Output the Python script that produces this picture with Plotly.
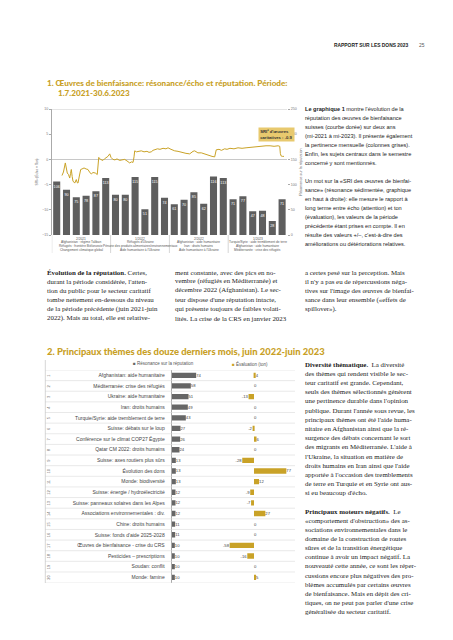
import plotly.graph_objects as go

W, H = 453, 640

# ---------------- DATA: chart 1 ----------------
MONTH_IDX = list(range(24))
RESONANCE_MONTHLY = [106, 90, 75, 78, 87, 113,
                     80, 80, 115, 51, 115, 74,
                     61, 70, 85, 62, 116, 113,
                     71, 77, 47, 48, 28, 71]
SRI_X = [0.54, 0.69, 0.88, 0.98, 1.08, 1.20, 1.33, 1.41, 1.49, 1.58,
         1.66, 1.84, 1.92, 2.00, 2.09, 2.17, 2.31, 2.45, 2.58, 2.79,
         3.00, 3.19, 3.35, 3.53, 3.70, 3.94, 4.14, 4.21, 4.29, 4.47,
         4.72, 4.87, 5.06, 5.23, 5.41, 5.54, 5.74, 5.94, 6.15, 6.43,
         6.66, 6.94, 7.17, 7.45, 7.63, 7.79, 7.89, 7.96, 8.14, 8.40,
         8.63, 8.91, 9.21, 9.42, 9.65, 9.83, 10.03, 10.28, 10.54, 10.85,
         11.15, 11.36, 11.66, 12.04, 12.38, 12.71, 12.99, 13.19, 13.57, 13.76,
         13.91, 14.08, 14.26, 14.41, 14.76, 15.03, 15.34, 15.61, 15.85, 16.12,
         16.20, 16.28, 16.56, 16.81, 17.14, 17.38, 17.68, 18.09, 18.50, 18.91,
         19.32, 19.73, 20.14, 20.54, 20.95, 21.36, 21.77, 22.18, 22.59, 22.76,
         22.82, 22.89, 23.04, 23.19]
SRI_Y = [-3.2, -2.5, -0.7, -1.6, -2.7, -3.0, -3.7, -2.8, -2.0, -3.4,
         -4.3, -4.7, -4.3, -4.0, -4.6, -4.7, -3.3, -2.0, -1.9, -1.7,
         -1.9, -2.0, -2.5, -2.9, -2.6, -2.7, -3.0, -1.5, 0.4, 0.0,
         -0.2, 0.1, 0.3, 0.6, 1.1, 0.4, 0.0, -0.1, 0.1, -0.2,
         -0.1, 0.0, -0.3, -0.7, -0.5, -0.6, 0.5, 1.7, 1.5, 1.6,
         1.7, 1.5, 1.6, 1.4, 1.5, 1.8, 1.9, 2.1, 2.0, 2.2,
         2.1, 2.3, 2.0, 1.7, 1.6, 1.4, 1.3, 1.2, 1.1, 1.4,
         1.6, 1.7, 1.5, 1.3, 1.3, 1.1, 1.0, 0.8, 0.6, 0.5,
         1.2, 1.9, 2.0, 1.8, 2.1, 2.0, 2.2, 2.1, 2.3, 2.2,
         2.3, 2.4, 2.5, 2.6, 2.6, 2.7, 2.7, 2.6, 2.7, 2.6,
         1.2, 0.7, 0.6, 0.6]
SRI_TICKS = [-15, -10, -5, 0, 5, 10]
RES_TICKS = [0, 50, 100, 150, 200, 250]
SRI_LAST = "-0.9"
SEMESTERS = ["2/2021", "1/2022", "2/2022", "1/2023"]
SEMESTER_CENTERS = [2.5, 8.5, 14.5, 20.5]
SEMESTER_BOUNDS = [-0.5, 5.5, 11.5, 17.5]
SEMESTER_TOPICS = [
    ["Afghanistan : régime Taliban", "Réfugiés : frontière Biélorussie", "Changement climatique global"],
    ["Réfugiés d'Ukraine", "Pénurie des produits alimentaires/environnementaux", "Aide humanitaire à l'Ukraine"],
    ["Afghanistan : aide humanitaire", "Iran : droits humains", "Aide humanitaire à l'Ukraine"],
    ["Turquie/Syrie : aide tremblement de terre", "Afghanistan : aide humanitaire", "Méditerranée : crise des réfugiés"],
]

# ---------------- DATA: chart 2 ----------------
THEMES = [
    "Afghanistan: aide humanitaire",
    "Méditerranée: crise des réfugiés",
    "Ukraine: aide humanitaire",
    "Iran: droits humains",
    "Turquie/Syrie: aide tremblement de terre",
    "Suisse: débats sur le loup",
    "Conférence sur le climat COP27 Égypte",
    "Qatar CM 2022: droits humains",
    "Suisse: axes routiers plus sûrs",
    "Évolution des dons",
    "Monde: biodiversité",
    "Suisse: énergie / hydroélectricité",
    "Suisse: panneaux solaires dans les Alpes",
    "Associations environnementales : div.",
    "Chine: droits humains",
    "Suisse: fonds d'aide 2025-2028",
    "Œuvres de bienfaisance - crise du CRS",
    "Pesticides – prescriptions",
    "Soudan: conflit",
    "Monde: famine",
]
THEME_RESONANCE = [74, 58, 51, 49, 43, 27, 26, 24, 13, 13, 13, 12, 12, 12, 11, 11, 10, 10, 10, 10]
THEME_TON = [4, 0, -13, 0, 0, -2, 6, 0, -28, 77, 12, -9, -7, 27, 0, 0, -58, -16, 0, 5]
LEGEND_LABELS = ["Résonance sur la réputation", "Évaluation (ton)"]

# ---------------- styles ----------------
GOLD = "#c9a227"
TITLE_GOLD = "#c8a026"
GRAY_BAR = "#5e5e5e"
SANS = "Liberation Sans"
SERIF = "Liberation Serif"
TITLE_FONT = "Lato"


def px(x):
    return x / W


def py(y):
    return 1 - y / H


fig = go.Figure()

# chart 1 bars (right axis) and SRI line (left axis)
fig.add_trace(go.Bar(
    x=MONTH_IDX, y=RESONANCE_MONTHLY, xaxis="x", yaxis="y",
    marker=dict(color=GRAY_BAR, line=dict(width=0)), width=0.72,
    text=RESONANCE_MONTHLY, texttemplate="%{text}", textposition="inside",
    insidetextanchor="end", constraintext="none", textangle=0,
    textfont=dict(size=3.7, color="white", family=SANS), showlegend=False,
    hoverinfo="skip"))
fig.add_trace(go.Scatter(
    x=SRI_X, y=SRI_Y, xaxis="x", yaxis="y2", mode="lines",
    line=dict(color=GOLD, width=1), showlegend=False, hoverinfo="skip"))

# chart 2 bars
idx = list(range(len(THEMES)))
fig.add_trace(go.Bar(
    x=THEME_RESONANCE, y=idx, orientation="h", xaxis="x2", yaxis="y3",
    marker=dict(color="#666666", line=dict(width=0)), width=0.5,
    text=THEME_RESONANCE, texttemplate="%{text}", textposition="outside",
    constraintext="none", cliponaxis=False,
    textfont=dict(size=4.2, color="#444", family=SANS), showlegend=False,
    hoverinfo="skip"))
fig.add_trace(go.Bar(
    x=THEME_TON, y=idx, orientation="h", xaxis="x3", yaxis="y3",
    marker=dict(color=GOLD, line=dict(width=0)), width=0.5,
    text=THEME_TON, texttemplate="%{text}", textposition="outside",
    constraintext="none", cliponaxis=False,
    textfont=dict(size=4.2, color="#444", family=SANS), showlegend=False,
    hoverinfo="skip"))

tickfont_small = dict(size=3.6, color="#777", family=SANS)

fig.update_layout(
    width=W, height=H, autosize=False,
    margin=dict(l=0, r=0, t=0, b=0),
    paper_bgcolor="white", plot_bgcolor="rgba(0,0,0,0)",
    showlegend=False,
    xaxis=dict(domain=[px(43.8), px(279)], range=[-0.5, 23.5], visible=False,
               anchor="y", fixedrange=True),
    yaxis=dict(domain=[py(227), py(101)], range=[0, 250], side="right",
               anchor="x", tickvals=RES_TICKS, tickfont=tickfont_small,
               ticks="outside", ticklen=2, tickcolor="#aaa", tickwidth=0.5,
               showgrid=False, zeroline=False, showline=False, automargin=False,
               title=dict(text="Résonance sur la réputation",
                          font=dict(size=3.8, color="#666", family=SANS), standoff=3)),
    yaxis2=dict(overlaying="y", side="left", anchor="x", range=[-15, 10],
                tickvals=SRI_TICKS, tickfont=tickfont_small, ticks="outside",
                ticklen=2, tickcolor="#aaa", tickwidth=0.5,
                showgrid=False, zeroline=True, zerolinecolor="#c8c8c8",
                zerolinewidth=0.8, showline=True, linecolor="#aaa", linewidth=0.6,
                automargin=False,
                title=dict(text="SRI³ (Écho × Ton)",
                           font=dict(size=3.4, color="#666", family=SANS), standoff=3)),
    xaxis2=dict(domain=[px(163.5), px(213.5)], range=[0, 150], visible=False,
                anchor="y3", fixedrange=True),
    xaxis3=dict(domain=[px(216.6), px(288)], range=[-70, 100], visible=False,
                anchor="y3", fixedrange=True),
    yaxis3=dict(domain=[py(574.6), py(362)], range=[19.5, -0.5], anchor="x2",
                tickvals=idx, ticktext=THEMES, ticks="", ticklabelstandoff=5,
                tickfont=dict(size=5, color="#444", family=SANS),
                showline=True, linecolor="#aaa", linewidth=0.6,
                showgrid=False, zeroline=False, automargin=False),
)

shapes = []
annotations = []

# chart 1 top line
shapes.append(dict(type="line", xref="x", yref="y2", x0=-0.5, x1=23.5,
                   y0=SRI_TICKS[-1], y1=SRI_TICKS[-1],
                   line=dict(color="#aaa", width=0.6)))
# semester separators
for b in SEMESTER_BOUNDS:
    shapes.append(dict(type="line", xref="x", yref="paper", x0=b, x1=b,
                       y0=py(245), y1=py(227), line=dict(color="#bbb", width=0.6)))
# semester labels
for c, sem, topics in zip(SEMESTER_CENTERS, SEMESTERS, SEMESTER_TOPICS):
    for k, t in enumerate([sem] + topics):
        annotations.append(dict(x=c, xref="x", y=py(230.6 + 3.7 * k), yref="paper",
                                text=t, showarrow=False, xanchor="center", yanchor="middle",
                                font=dict(size=3.2, color="#555", family=SANS)))
# SRI box
annotations.append(dict(x=px(268.5), y=py(126.5), xref="paper", yref="paper",
                        text=f"<b>SRI³ d'œuvres<br>caritatives : {SRI_LAST}</b>",
                        showarrow=False, bgcolor="#e8c96e", borderpad=1.2,
                        align="left", xanchor="center", yanchor="middle",
                        font=dict(size=4.2, color="#333", family=SANS)))

# chart 2 table lines
for i in range(len(THEMES) + 1):
    shapes.append(dict(type="line", xref="paper", yref="y3", x0=px(37.3), x1=px(287),
                       y0=i - 0.5, y1=i - 0.5, line=dict(color="#dadada", width=0.6)))
shapes.append(dict(type="line", xref="paper", yref="paper", x0=px(37.3), x1=px(37.3),
                   y0=py(575), y1=py(352), line=dict(color="#bbb", width=0.6)))
for i in idx:
    annotations.append(dict(x=px(40.5), xref="paper", y=i, yref="y3", text=str(i + 1),
                            showarrow=False, textangle=-90, xanchor="center",
                            yanchor="middle", font=dict(size=4, color="#666", family=SANS)))
# legend
for xl, lab, col in [(123, LEGEND_LABELS[0], "#666666"), (222, LEGEND_LABELS[1], GOLD)]:
    annotations.append(dict(x=px(xl), y=py(355.7), xref="paper", yref="paper",
                            text=f"<span style='color:{col}'>■</span> {lab}",
                            showarrow=False, xanchor="left", yanchor="middle",
                            font=dict(size=4.5, color="#555", family=SANS)))


def text_lines(x, y0, dy, lines, size, family, color="#222", weight=None):
    for k, t in enumerate(lines):
        f = dict(size=size, family=family, color=color)
        if weight:
            f["weight"] = weight
        annotations.append(dict(x=px(x), y=py(y0 + dy * k), xref="paper", yref="paper",
                                text=t, showarrow=False, xanchor="left", yanchor="middle",
                                align="left", font=f))


# header
annotations.append(dict(x=px(402), y=py(37), xref="paper", yref="paper",
                        text="<b>RAPPORT SUR LES DONS 2023</b>", showarrow=False,
                        xanchor="right", yanchor="middle",
                        font=dict(size=4.9, family=SANS, color="#222")))
annotations.append(dict(x=px(409), y=py(37), xref="paper", yref="paper",
                        text="25", showarrow=False, xanchor="left", yanchor="middle",
                        font=dict(size=4.9, family=SANS, color="#555")))

# titles
text_lines(37, 75.5, 10, ["1. Œuvres de bienfaisance: résonance/écho et réputation. Période:"],
           8.1, TITLE_FONT, TITLE_GOLD, weight=900)
text_lines(48, 85, 10, ["1.7.2021-30.6.2023"], 8.1, TITLE_FONT, TITLE_GOLD, weight=900)
text_lines(37, 343, 10, ["2. Principaux thèmes des douze derniers mois, juin 2022-juin 2023"],
           9.4, TITLE_FONT, TITLE_GOLD, weight=900)

# right column chart 1
text_lines(295, 101, 9, [
    "<b>Le graphique 1</b> montre l'évolution de la",
    "réputation des œuvres de bienfaisance",
    "suisses (courbe dorée) sur deux ans",
    "(mi-2021 à mi-2023). Il présente également",
    "la pertinence mensuelle (colonnes grises).",
    "Enfin, les sujets centraux dans le semestre",
    "concerné y sont mentionnés.",
], 5.6, SANS, "#222")
text_lines(295, 173, 9, [
    "Un mot sur la «SRI des œuvres de bienfai-",
    "sance» (résonance sédimentée, graphique",
    "en haut à droite): elle mesure le rapport à",
    "long terme entre écho (attention) et ton",
    "(évaluation), les valeurs de la période",
    "précédente étant prises en compte. Il en",
    "résulte des valeurs +/–, c'est-à-dire des",
    "améliorations ou détériorations relatives.",
], 5.6, SANS, "#222")

# body text
BODY = 6.9
text_lines(37, 264, 9.2, [
    "<b>Évolution de la réputation.</b> Certes,",
    "durant la période considérée, l'atten-",
    "tion du public pour le secteur caritatif",
    "tombe nettement en-dessous du niveau",
    "de la période précédente (juin 2021-juin",
    "2022). Mais au total, elle est relative-",
], BODY, SERIF)
text_lines(165, 264, 9.2, [
    "ment constante, avec des pics en no-",
    "vembre (réfugiés en Méditerranée) et",
    "décembre 2022 (Afghanistan). Le sec-",
    "teur dispose d'une réputation intacte,",
    "qui présente toujours de faibles volati-",
    "lités. La crise de la CRS en janvier 2023",
], BODY, SERIF)
text_lines(295, 264, 9.2, [
    "a certes pesé sur la perception. Mais",
    "il n'y a pas eu de répercussions néga-",
    "tives sur l'image des œuvres de bienfai-",
    "sance dans leur ensemble («effets de",
    "spillover»).",
], BODY, SERIF)
text_lines(295, 356, 9.2, [
    "<b>Diversité thématique.</b>  La diversité",
    "des thèmes qui rendent visible le sec-",
    "teur caritatif est grande. Cependant,",
    "seuls des thèmes sélectionnés génèrent",
    "une pertinence durable dans l'opinion",
    "publique. Durant l'année sous revue, les",
    "principaux thèmes ont été l'aide huma-",
    "nitaire en Afghanistan ainsi que la ré-",
    "surgence des débats concernant le sort",
    "des migrants en Méditerranée. L'aide à",
    "l'Ukraine, la situation en matière de",
    "droits humains en Iran ainsi que l'aide",
    "apportée à l'occasion des tremblements",
    "de terre en Turquie et en Syrie ont aus-",
    "si eu beaucoup d'écho.",
], BODY, SERIF)
text_lines(295, 503.3, 9.1, [
    "<b>Principaux moteurs négatifs.</b>  Le",
    "«comportement d'obstruction» des as-",
    "sociations environnementales dans le",
    "domaine de la construction de routes",
    "sûres et de la transition énergétique",
    "continue à avoir un impact négatif. La",
    "nouveauté cette année, ce sont les réper-",
    "cussions encore plus négatives des pro-",
    "blèmes accumulés par certains œuvres",
    "de bienfaisance. Mais en dépit des cri-",
    "tiques, on ne peut pas parler d'une crise",
    "généralisée du secteur caritatif.",
], BODY, SERIF)

fig.update_layout(shapes=shapes, annotations=annotations)
fig.write_html("out.html")
